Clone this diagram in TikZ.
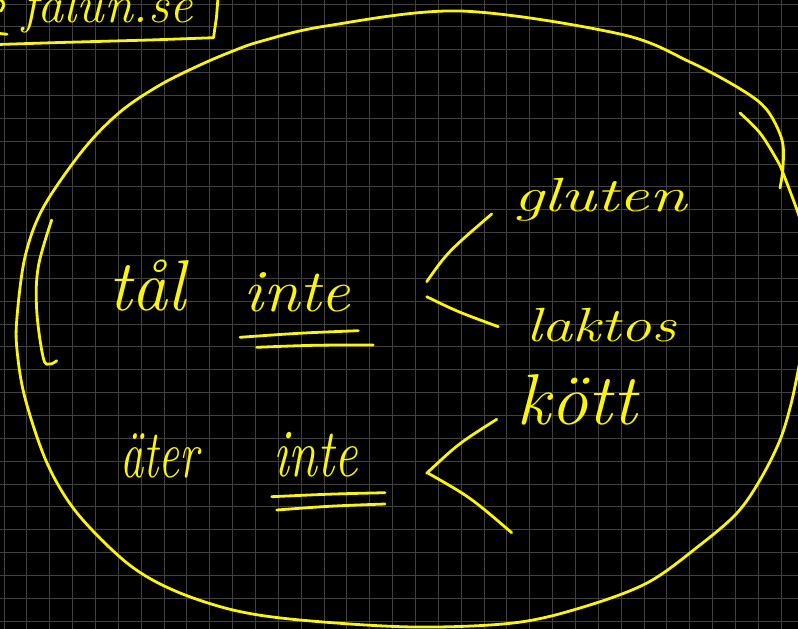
\documentclass[tikz,border=0pt]{standalone}
\usepackage{graphicx}
\definecolor{ink}{RGB}{250,245,10}
\definecolor{gridc}{RGB}{64,64,64}
\newcommand\hw[3]{\scalebox{#1}[#2]{\fontsize{40}{48}\selectfont\itshape #3}}
\begin{document}
\begin{tikzpicture}[x=1pt,y=-1pt,
  inkline/.style={draw=ink, line width=2.8pt, line cap=round, line join=round},
  word/.style={anchor=base west, inner sep=0pt, text=ink},
  gridline/.style={draw=gridc, line width=0.9pt}]
\useasboundingbox (0,0) rectangle (798,629);
\fill[black] (0,0) rectangle (798,629);
\clip (0,0) rectangle (798,629);
\foreach \i in {0,...,34} { \draw[gridline] ({4+22.857*\i},0) -- ({4+22.857*\i},629); }
\foreach \j in {0,...,27} { \draw[gridline] (0,{4+22.857*\j}) -- (798,{4+22.857*\j}); }

% top-left box
\draw[inkline] (218,-2) -- (216.5,17) -- (213.5,37.7) -- (150,40) -- (60,42.5) -- (-2,44.5);
\draw[inkline] (0,-1) .. controls (5,4) .. (1,11);
\draw[inkline] (0,33.5) -- (7,34.3);
\node[word] (falun) at (22,22) {\hw{1.3}{1.3}{falun.se}};

% big ellipse
\draw[inkline] plot[smooth, tension=0.55] coordinates {
 (802,350) (792,400) (780,440) (760,480) (737,513) (700,545) (647,583) (580,608) (513,623) (413,627)
 (300,620) (233,610) (173,590) (127,563) (77,513) (47,463) (25,398) (17,350)
 (17,317) (25,257) (43,208) (83,150) (120,112) (160,85) (200,65) (233,51) (262,41)
 (326,26) (460,11) (620,34) (690,62) (742,90) (767,110) (782,140) (783,167) (780,188)};
\draw[inkline] plot[smooth, tension=0.55] coordinates {
 (740,113) (760,133) (777,160) (783,173) (797,210) (805,235)};

% inner left bracket
\draw[inkline] plot[smooth, tension=0.6] coordinates {
 (51.7,220) (38.3,266.7) (36.7,310) (43.3,358) (50,364) (56.7,360.7)};

% words
\node[word] (tal) at (108,310) {\hw{1.8}{1.8}{tål}};
\node[word] (inte1) at (243,311) {\hw{1.65}{1.5}{inte}};
\node[word] (ater) at (120,477) {\hw{1.16}{1.7}{äter}};
\node[word] (inte2) at (273,476) {\hw{1.3}{1.7}{inte}};
\node[word] (gluten) at (513,211) {\hw{1.7}{1.2}{gluten}};
\node[word] (laktos) at (526,341) {\hw{1.55}{1.2}{laktos}};
\node[word] (kott) at (516,424) {\hw{1.88}{1.8}{kött}};

% underlines
\draw[inkline] (240,337.3) .. controls (300,333) .. (358.3,330.7);
\draw[inkline] (256.7,347.3) .. controls (315,345) .. (373.3,345);
\draw[inkline] (271.7,496.7) .. controls (330,494) .. (385,492.7);
\draw[inkline] (276.7,510) .. controls (330,506) .. (385,504);

% branches
\coordinate (b1s) at (426.7,281.7);
\coordinate (b1c) at (447.4,252.2);
\coordinate (b1e) at (491.7,214);
\coordinate (b2s) at (426.7,296.7);
\coordinate (b2c) at (457.5,311.7);
\coordinate (b2e) at (498.3,326.7);
\coordinate (b3s) at (496.7,419.3);
\coordinate (b3c) at (458.3,443.7);
\coordinate (b3e) at (426.7,473.3);
\coordinate (b4s) at (428.3,473.3);
\coordinate (b4c) at (470,497);
\coordinate (b4e) at (511.7,532.7);
\draw[inkline] (b1s) .. controls (b1c) .. (b1e);
\draw[inkline] (b2s) .. controls (b2c) .. (b2e);
\draw[inkline] (b3s) .. controls (b3c) .. (b3e);
\draw[inkline] (b4s) .. controls (b4c) .. (b4e);
\end{tikzpicture}
\end{document}
